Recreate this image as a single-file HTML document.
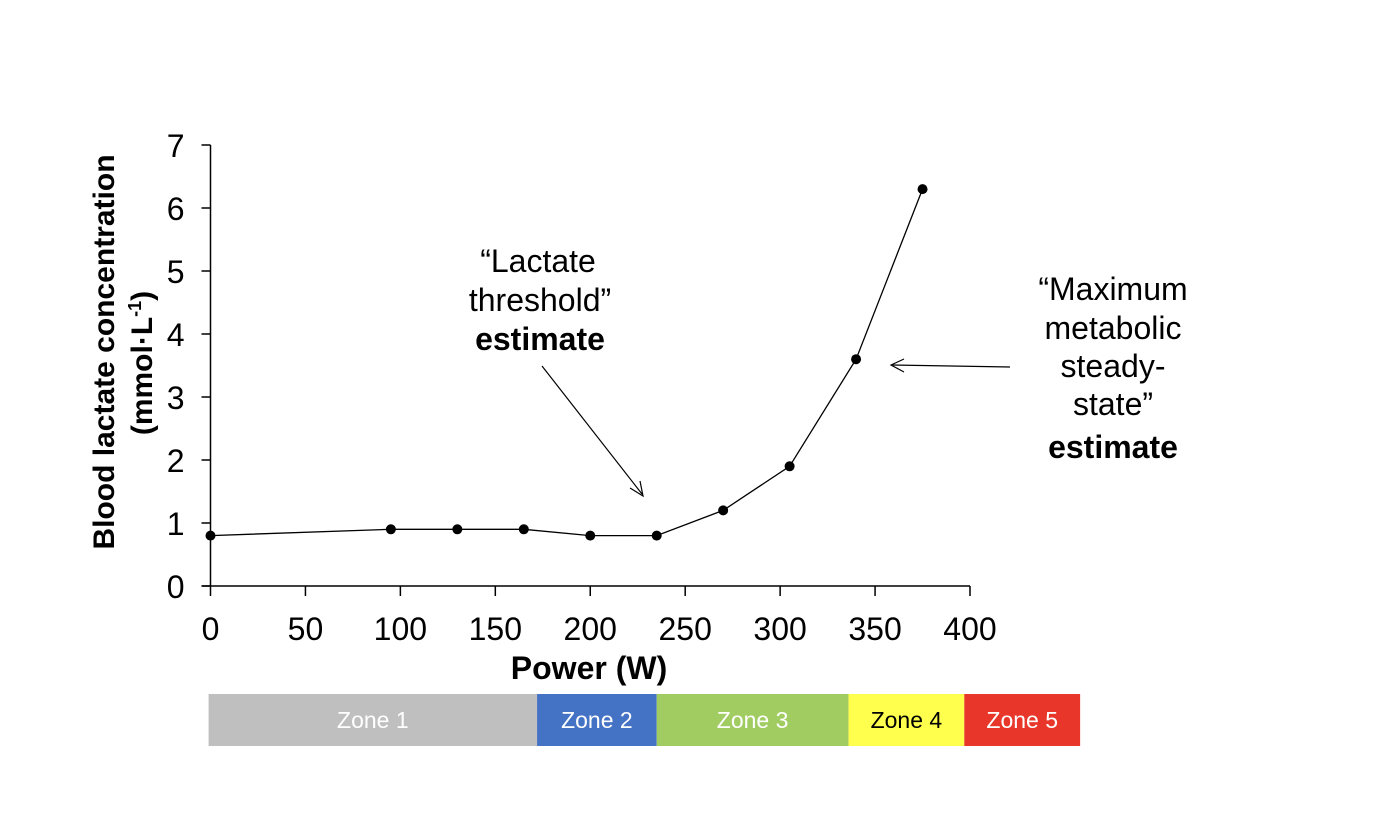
<!DOCTYPE html>
<html><head><meta charset="utf-8"><style>
body{margin:0;background:#fff;font-family:"Liberation Sans",Arial,sans-serif}
svg{display:block}
</style></head><body>
<svg width="1378" height="816" font-family="Liberation Sans, Arial, sans-serif">
<g id="plot"></g>
<text x="538" y="272" font-size="32" text-anchor="middle">“Lactate</text>
<text x="540" y="311" font-size="32" text-anchor="middle">threshold”</text>
<text x="540" y="350" font-size="32" font-weight="bold" text-anchor="middle">estimate</text>
<line x1="542" y1="366" x2="642" y2="494" stroke="#000" stroke-width="1.2"/>
<polyline points="630,488 643,496 640,481" fill="none" stroke="#000" stroke-width="1.2"/>
<text x="1113" y="300" font-size="32" text-anchor="middle">“Maximum</text>
<text x="1113" y="339" font-size="32" text-anchor="middle">metabolic</text>
<text x="1113" y="377" font-size="32" text-anchor="middle">steady-</text>
<text x="1113" y="415" font-size="32" text-anchor="middle">state”</text>
<text x="1113" y="458" font-size="32" font-weight="bold" text-anchor="middle">estimate</text>
<line x1="1010" y1="367" x2="892" y2="365" stroke="#000" stroke-width="1.2"/>
<polyline points="904,359 891,365 904,372" fill="none" stroke="#000" stroke-width="1.2"/>
<g transform="translate(114,352) rotate(-90)">
<text x="0" y="0" font-size="30" font-weight="bold" text-anchor="middle">Blood lactate concentration</text>
<text x="-11" y="38" font-size="30" font-weight="bold" text-anchor="middle">(mmol·L<tspan font-size="18" dy="-11">-1</tspan><tspan dy="11">)</tspan></text>
</g>
<text x="589" y="679" font-size="32" font-weight="bold" text-anchor="middle">Power (W)</text>
<g id="zones"></g>
</svg>
<script>
const powers=[0,95,130,165,200,235,270,305,340,375];
const lactate=[0.8,0.9,0.9,0.9,0.8,0.8,1.2,1.9,3.6,6.3];
const xTicks=[0,50,100,150,200,250,300,350,400];
const yTicks=[0,1,2,3,4,5,6,7];
const zoneNames=["Zone 1","Zone 2","Zone 3","Zone 4","Zone 5"];
const zoneStarts=[-1,172,235,336,397];
const zoneEnds=[172,235,336,397,458];
const zoneColors=["#bfbfbf","#4472c4","#a0cc62","#ffff4d","#e8372a"];
const zoneText=["#fff","#fff","#fff","#000","#fff"];
const NS="http://www.w3.org/2000/svg";
const X0=210.5,X1=970,Y0=586,Y1=145;
const xs=v=>X0+(v/400)*(X1-X0);
const ys=v=>Y0-(v/7)*(Y0-Y1);
const plot=document.getElementById('plot');
function mk(t,a,p){const e=document.createElementNS(NS,t);for(const k in a)e.setAttribute(k,a[k]);(p||plot).appendChild(e);return e;}
let e=mk('line',{x1:X0,y1:Y1,x2:X0,y2:Y0,stroke:'#000','stroke-width':1.5});


e=mk('line',{x1:X0-9,y1:Y0,x2:X1,y2:Y0,stroke:'#000','stroke-width':1.5});


yTicks.forEach(v=>{
 let t=mk('line',{x1:X0-9,y1:ys(v),x2:X0,y2:ys(v),stroke:'#000','stroke-width':1.5});
 
 
 let l=mk('text',{x:X0-26,y:ys(v)+12,'font-size':32,'text-anchor':'end'});l.textContent=v;
 
 
});
xTicks.forEach(v=>{
 let t=mk('line',{x1:xs(v),y1:Y0,x2:xs(v),y2:Y0+10,stroke:'#000','stroke-width':1.5});
 
 
 let l=mk('text',{x:xs(v),y:Y0+54,'font-size':32,'text-anchor':'middle'});l.textContent=v;
 
 
});
e=mk('polyline',{points:powers.map((p,i)=>xs(p)+','+ys(lactate[i])).join(' '),fill:'none',stroke:'#000','stroke-width':1.3});


powers.forEach((p,i)=>{
 let c=mk('circle',{cx:xs(p),cy:ys(lactate[i]),r:5,fill:'#000'});
 
 
});
const zg=document.getElementById('zones');
zoneNames.forEach((n,i)=>{
 let r=mk('rect',{x:xs(zoneStarts[i]),y:694,width:xs(zoneEnds[i])-xs(zoneStarts[i]),height:52,fill:zoneColors[i]},zg);
 
 
 let t=mk('text',{x:(xs(zoneStarts[i])+xs(zoneEnds[i]))/2,y:728,'font-size':23,'text-anchor':'middle',fill:zoneText[i]},zg);t.textContent=n;
 
 
});
</script>
</body></html>
